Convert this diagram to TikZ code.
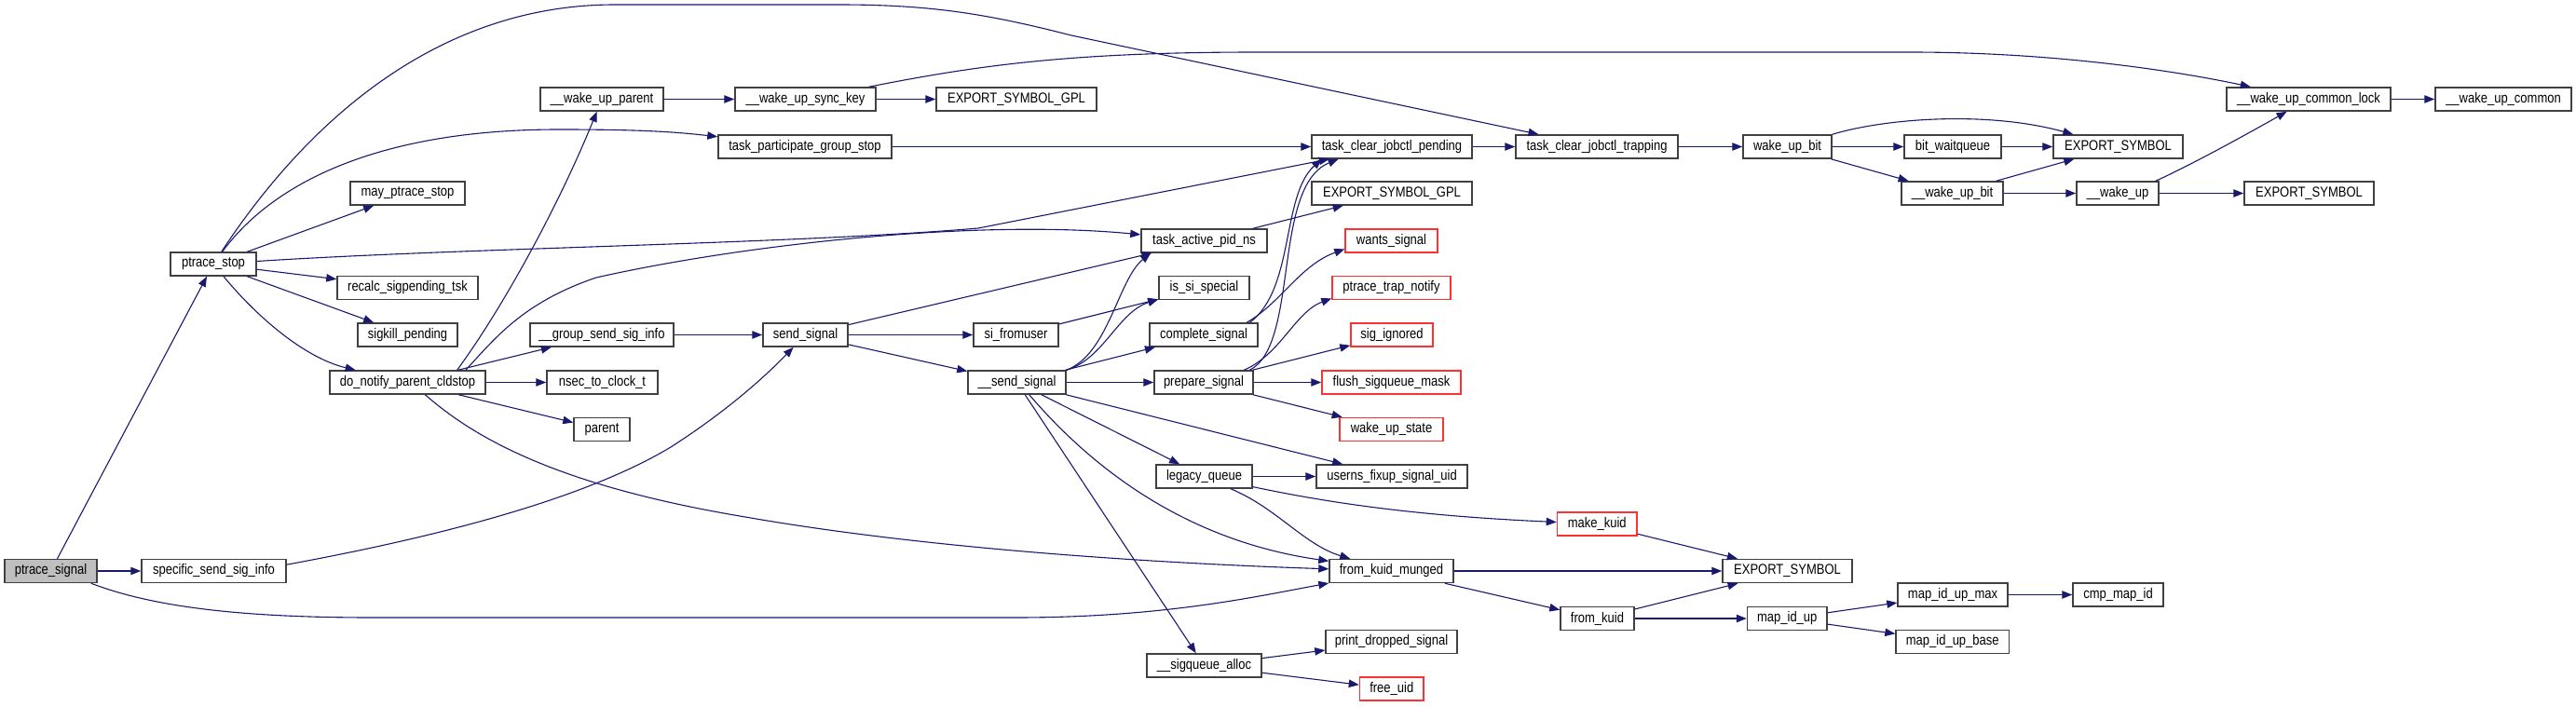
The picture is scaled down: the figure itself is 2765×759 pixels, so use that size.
\documentclass[tikz,border=0pt]{standalone}
\usepackage{fontspec}
\usepackage{graphicx}
\setmainfont{Liberation Sans}
\usetikzlibrary{arrows.meta}
\definecolor{edgecol}{HTML}{191970}
\definecolor{nodeborder}{HTML}{404040}
\definecolor{nodered}{HTML}{FF3030}
\definecolor{rootgray}{HTML}{BFBFBF}
\tikzset{
  fn/.style={draw=nodeborder, fill=white, line width=0.75pt, minimum height=12.5pt,
    inner sep=0pt, font=\fontsize{6.5pt}{7pt}\selectfont, text=black},
  fnred/.style={fn, draw=nodered},
  fnroot/.style={fn, fill=rootgray},
  e/.style={draw=edgecol, line width=0.55pt, -{Triangle[length=5.5pt,width=4.2pt]}},
}
\newcommand{\mknode}[6]{\node[#6, minimum width={(#3-#2)*0.5pt}] (#1) at ({(#2+#3)/2},#4) {\scalebox{1}[1.18]{#5}};}
\begin{document}
\begin{tikzpicture}[x=0.5pt, y=-0.5pt]
\useasboundingbox (0,0) rectangle (2765,759);
% nodes
\mknode{psig}{5}{104}{613}{ptrace\_signal}{fnroot}
\mknode{sssi}{152}{307}{613}{specific\_send\_sig\_info}{fn}
\mknode{pstop}{183}{275}{283.5}{ptrace\_stop}{fn}
\mknode{mps}{376}{499}{207.5}{may\_ptrace\_stop}{fn}
\mknode{rst}{362}{513}{309}{recalc\_sigpending\_tsk}{fn}
\mknode{skp}{384}{491}{359.5}{sigkill\_pending}{fn}
\mknode{dnpc}{354}{521}{410.5}{do\_notify\_parent\_cldstop}{fn}
\mknode{wup}{580}{712}{106.5}{\_\_wake\_up\_parent}{fn}
\mknode{gssi}{569}{723}{359.5}{\_\_group\_send\_sig\_info}{fn}
\mknode{nsec}{587}{706}{410.5}{nsec\_to\_clock\_t}{fn}
\mknode{par}{616}{676}{461}{parent}{fn}
\mknode{wusk}{789}{940}{106.5}{\_\_wake\_up\_sync\_key}{fn}
\mknode{tpgs}{771}{957}{157.5}{task\_participate\_group\_stop}{fn}
\mknode{ssig}{819}{910}{359.5}{send\_signal}{fn}
\mknode{esg1}{1005}{1177}{106.5}{EXPORT\_SYMBOL\_GPL}{fn}
\mknode{sfu}{1045}{1136}{359.5}{si\_fromuser}{fn}
\mknode{ssend}{1039}{1144}{410.5}{\_\_send\_signal}{fn}
\mknode{tapn}{1225}{1360}{258.5}{task\_active\_pid\_ns}{fn}
\mknode{isp}{1244}{1341}{309}{is\_si\_special}{fn}
\mknode{cs}{1234}{1350}{359.5}{complete\_signal}{fn}
\mknode{prep}{1239}{1345}{410.5}{prepare\_signal}{fn}
\mknode{lq}{1241}{1344}{511.5}{legacy\_queue}{fn}
\mknode{sqa}{1231}{1354}{714.5}{\_\_sigqueue\_alloc}{fn}
\mknode{tcjp}{1408}{1580}{157.5}{task\_clear\_jobctl\_pending}{fn}
\mknode{esg2}{1408}{1580}{207.5}{EXPORT\_SYMBOL\_GPL}{fn}
\mknode{wants}{1444}{1543}{258.5}{wants\_signal}{fnred}
\mknode{ptn}{1430}{1557}{309}{ptrace\_trap\_notify}{fnred}
\mknode{sigi}{1450}{1538}{359.5}{sig\_ignored}{fnred}
\mknode{fsm}{1419}{1568}{410.5}{flush\_sigqueue\_mask}{fnred}
\mknode{wus}{1438}{1549}{461}{wake\_up\_state}{fnred}
\mknode{ufsu}{1413}{1575}{511.5}{userns\_fixup\_signal\_uid}{fn}
\mknode{fkm}{1427}{1560}{613}{from\_kuid\_munged}{fn}
\mknode{pds}{1423}{1564}{689}{print\_dropped\_signal}{fn}
\mknode{fuid}{1459.5}{1528}{739.5}{free\_uid}{fnred}
\mknode{tcjt}{1627}{1801}{157.5}{task\_clear\_jobctl\_trapping}{fn}
\mknode{mk}{1671.5}{1757}{562.5}{make\_kuid}{fnred}
\mknode{fk}{1675}{1754}{664}{from\_kuid}{fn}
\mknode{wub}{1871}{1966}{157.5}{wake\_up\_bit}{fn}
\mknode{es3}{1849}{1988}{613}{EXPORT\_SYMBOL}{fn}
\mknode{miu}{1875.5}{1961}{664}{map\_id\_up}{fn}
\mknode{bwq}{2044}{2148}{157.5}{bit\_waitqueue}{fn}
\mknode{uwub}{2041}{2150}{207.5}{\_\_wake\_up\_bit}{fn}
\mknode{miumax}{2037}{2155}{638.5}{map\_id\_up\_max}{fn}
\mknode{miubase}{2035}{2156.5}{689}{map\_id\_up\_base}{fn}
\mknode{es1}{2204}{2343}{157.5}{EXPORT\_SYMBOL}{fn}
\mknode{uwu}{2229}{2317}{207.5}{\_\_wake\_up}{fn}
\mknode{cmi}{2225}{2322}{638.5}{cmp\_map\_id}{fn}
\mknode{wucl}{2390}{2566}{106.5}{\_\_wake\_up\_common\_lock}{fn}
\mknode{es2}{2409}{2548}{207.5}{EXPORT\_SYMBOL}{fn}
\mknode{wuc}{2614}{2760}{106.5}{\_\_wake\_up\_common}{fn}
% edges
\draw[e] (psig) -- (pstop);
\draw[e] (psig) -- (sssi);
\draw[e] (psig.-17) .. controls (160,650) and (250,663) .. (400,663) -- (1090,663) .. controls (1250,663) and (1350,640) .. (fkm.191);
\draw[e] (pstop) .. controls (330,130) and (470,5) .. (660,5) -- (900,5) .. controls (1000,5) and (1060,15) .. (1150,38) -- (tcjt);
\draw[e] (pstop) .. controls (290,200) and (400,139) .. (600,139) .. controls (680,139) and (720,141) .. (tpgs);
\draw[e] (pstop) -- (mps);
\draw[e] (pstop) -- (rst);
\draw[e] (pstop) -- (skp);
\draw[e] (pstop) .. controls (280,345) and (330,385) .. (dnpc);
\draw[e] (pstop) .. controls (500,266) and (850,262) .. (1050,245) -- (tcjp);
\draw[e] (dnpc.12) .. controls (530,365) and (560,325) .. (640,298) .. controls (800,262) and (1050,235) .. (tapn);
\draw[e] (dnpc.14) .. controls (540,330) and (600,220) .. (wup);
\draw[e] (dnpc) -- (gssi);
\draw[e] (dnpc) -- (nsec);
\draw[e] (dnpc) -- (par);
\draw[e] (dnpc.-35) .. controls (520,480) and (620,525) .. (800,555) .. controls (1000,590) and (1250,605) .. (fkm);
\draw[e] (wup) -- (wusk);
\draw[e] (wusk) -- (esg1);
\draw[e] (wusk.11) .. controls (1050,70) and (1150,56) .. (1350,56) -- (2050,56) .. controls (2200,56) and (2330,75) .. (wucl);
\draw[e] (tpgs) -- (tcjp);
\draw[e] (tcjp) -- (tcjt);
\draw[e] (tcjt) -- (wub);
\draw[e] (wub) -- (bwq);
\draw[e] (wub) -- (uwub);
\draw[e] (wub.north east) .. controls (2020,128) and (2130,118) .. (es1);
\draw[e] (bwq) -- (es1);
\draw[e] (uwub) -- (es1);
\draw[e] (uwub) -- (uwu);
\draw[e] (uwu.18) .. controls (2350,178) and (2410,145) .. (wucl);
\draw[e] (uwu) -- (es2);
\draw[e] (wucl) -- (wuc);
\draw[e] (ssig) -- (tapn);
\draw[e] (ssig) -- (sfu);
\draw[e] (ssig) -- (ssend);
\draw[e] (sfu) -- (isp);
\draw[e] (gssi) -- (ssig);
\draw[e] (sssi.5) .. controls (450,580) and (620,540) .. (720,480) .. controls (790,435) and (830,395) .. (ssig);
\draw[e] (tapn) -- (esg2);
\draw[e] (ssend.north east) .. controls (1190,380) and (1200,300) .. (tapn.193);
\draw[e] (ssend.north east) .. controls (1185,385) and (1200,335) .. (isp.194);
\draw[e] (ssend) -- (cs);
\draw[e] (ssend) -- (prep);
\draw[e] (ssend) -- (lq);
\draw[e] (ssend) -- (ufsu);
\draw[e] (ssend.-45) .. controls (1170,500) and (1270,580) .. (fkm.171);
\draw[e] (ssend) -- (sqa);
\draw[e] (cs.15) .. controls (1390,310) and (1375,210) .. (tcjp.190);
\draw[e] (cs.16) .. controls (1375,325) and (1395,285) .. (wants.190);
\draw[e] (prep.15) .. controls (1395,370) and (1365,200) .. (tcjp.193);
\draw[e] (prep.17) .. controls (1375,380) and (1390,335) .. (ptn.190);
\draw[e] (prep) -- (sigi);
\draw[e] (prep) -- (fsm);
\draw[e] (prep) -- (wus);
\draw[e] (lq) -- (ufsu);
\draw[e] (lq.-12) .. controls (1450,545) and (1550,555) .. (mk);
\draw[e] (lq.-25) .. controls (1370,545) and (1400,585) .. (fkm);
\draw[e] (mk) -- (es3);
\draw[e] (fkm) -- (es3);
\draw[e] (fkm) -- (fk);
\draw[e] (fk) -- (es3);
\draw[e] (fk) -- (miu);
\draw[e] (miu) -- (miumax);
\draw[e] (miu) -- (miubase);
\draw[e] (miumax) -- (cmi);
\draw[e] (sqa) -- (pds);
\draw[e] (sqa) -- (fuid);
\end{tikzpicture}
\end{document}
